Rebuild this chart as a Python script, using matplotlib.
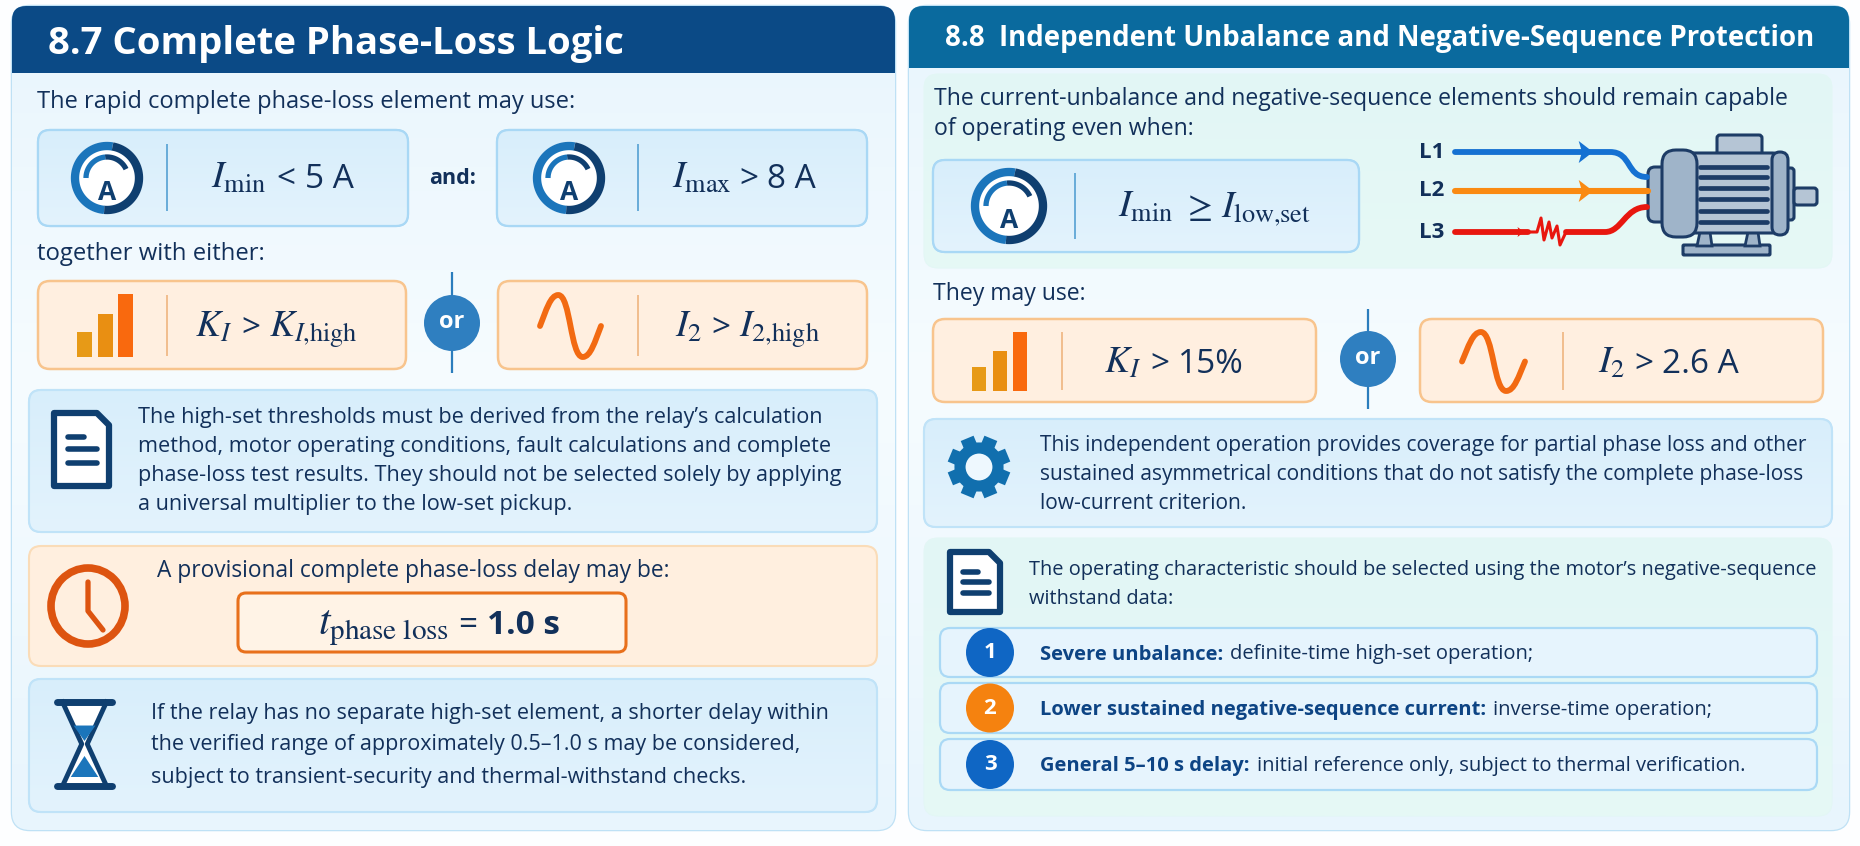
import numpy as np
import matplotlib
matplotlib.use("Agg")
import matplotlib.pyplot as plt
from matplotlib.patches import FancyBboxPatch, Ellipse, Polygon, PathPatch
from matplotlib.path import Path

plt.rcParams['font.family'] = ['Open Sans', 'DejaVu Sans']
plt.rcParams['mathtext.fontset'] = 'stix'

# Texts of the chart
title_left = "8.7 Complete Phase-Loss Logic"
title_right = "8.8  Independent Unbalance and Negative-Sequence Protection"
intro_left = "The rapid complete phase-loss element may use:"
together = "together with either:"
high_set = ["The high-set thresholds must be derived from the relay’s calculation",
            "method, motor operating conditions, fault calculations and complete",
            "phase-loss test results. They should not be selected solely by applying",
            "a universal multiplier to the low-set pickup."]
provisional = "A provisional complete phase-loss delay may be:"
shorter = ["If the relay has no separate high-set element, a shorter delay within",
           "the verified range of approximately 0.5–1.0 s may be considered,",
           "subject to transient-security and thermal-withstand checks."]
intro_right = ["The current-unbalance and negative-sequence elements should remain capable",
               "of operating even when:"]
may_use = "They may use:"
coverage = ["This independent operation provides coverage for partial phase loss and other",
            "sustained asymmetrical conditions that do not satisfy the complete phase-loss",
            "low-current criterion."]
operating = ["The operating characteristic should be selected using the motor’s negative-sequence",
             "withstand data:"]
row_numbers = ["1", "2", "3"]
row_bold = ["Severe unbalance:", "Lower sustained negative-sequence current:", "General 5–10 s delay:"]
row_plain = ["definite-time high-set operation;", "inverse-time operation;",
             "initial reference only, subject to thermal verification."]
phases = ["L1", "L2", "L3"]
bar_heights = [25, 43, 63]

NAVY = "#12305a"
BLUE = "#1b75bb"
DARK = "#0f3f70"
ORANGE = "#f26a12"
BOLDBLUE = "#0d4484"
BLUEBOX = [(0, "#d8eefb"), (1, "#e3f3fd")]
GREENBOX = [(0, "#e2f6f5"), (1, "#e6f9f6")]

fig = plt.figure(figsize=(18.6, 8.46), dpi=100)
ax = fig.add_axes([0, 0, 1, 1])
ax.axis('off')


def box(x0, y0, x1, y1, fc, ec, r=10, lw=1.5, z=2):
    p = FancyBboxPatch((x0 + r, y0 + r), x1 - x0 - 2 * r, y1 - y0 - 2 * r,
                       boxstyle="round,pad=%g,rounding_size=%g" % (r, r),
                       fc=fc, ec=ec, lw=lw, zorder=z)
    ax.add_patch(p)
    return p


def gradient(patch, x0, y0, x1, y1, stops, z=2.1):
    # vertical colour gradient clipped to a rounded box
    pos = [s[0] for s in stops]
    rgb = np.array([matplotlib.colors.to_rgb(s[1]) for s in stops])
    t = np.linspace(0, 1, 200)
    img = np.stack([np.interp(t, pos, rgb[:, i]) for i in range(3)], axis=1)[:, None, :]
    im = ax.imshow(img, extent=[x0, x1, y1, y0], aspect='auto', zorder=z)
    im.set_clip_path(patch)


def grad_box(x0, y0, x1, y1, stops, ec, r=12, lw=1.5, z=2):
    p = box(x0, y0, x1, y1, stops[0][1], ec, r, lw, z)
    gradient(p, x0, y0, x1, y1, stops, z + 0.1)
    box(x0, y0, x1, y1, 'none', ec, r, lw, z + 0.2)


def write(x, y, s, size=14, weight='normal', color=NAVY, **kw):
    return ax.text(x, y, s, fontsize=size, fontweight=weight, color=color,
                   va='baseline', zorder=6, **kw)


def lines(x, ys, strs, size=14):
    for y, s in zip(ys, strs):
        write(x, y, s, size)


def run(x, y, parts):
    # several pieces of text side by side on one baseline: (string, size, weight, gap)
    rend = fig.canvas.get_renderer()
    for s, size, weight, gap in parts:
        t = write(x, y, s, size, weight)
        x += t.get_window_extent(rend).width + gap


def arc(cx, cy, rx, ry, a0, a1, color, lw, cap='butt'):
    a = np.radians(np.linspace(a0, a1, 60))
    ax.plot(cx + rx * np.cos(a), cy - ry * np.sin(a), color=color, lw=lw,
            solid_capstyle=cap, zorder=5)


def curve(verts, codes, color, lw, z=5):
    ax.add_patch(PathPatch(Path(verts, codes), fc='none', ec=color, lw=lw,
                           capstyle='round', joinstyle='round', zorder=z))


def seg(x0, y0, x1, y1, color, lw, cap='butt', z=5):
    ax.plot([x0, x1], [y0, y1], color=color, lw=lw, solid_capstyle=cap, zorder=z)


def gauge(cx, cy, r=36):
    ax.add_patch(Ellipse((cx, cy), 2 * r, 2 * r, fc='white', ec='none', zorder=4))
    arc(cx, cy, r - 4, r - 4, 80, 265, BLUE, 6)
    arc(cx, cy, r - 4, r - 4, -95, 80, DARK, 6)
    arc(cx, cy, r - 15, r - 15, 25, 95, DARK, 3.8)
    arc(cx, cy, r - 15, r - 15, 95, 180, BLUE, 3.8)
    ax.text(cx, cy + 14, "A", fontsize=19, fontweight='bold', color=DARK,
            ha='center', va='center', zorder=6)


def bars(x0, bottom, scale=1.0, width=15, step=20.5):
    for i, (h, c) in enumerate(zip(bar_heights, ["#e79a17", "#e98f12", "#f9690e"])):
        ax.bar(x0 + i * step, h * scale, width=width, bottom=bottom - h * scale,
               color=c, align='edge', zorder=5)


def sine(x0, y0, w, h):
    pts = [(0, .5), (.1, .25), (.17, 0), (.3, 0), (.5, 0), (.5, 1), (.7, 1),
           (.83, 1), (.9, .75), (1, .5)]
    verts = [(x0 + a * w, y0 + b * h) for a, b in pts]
    curve(verts, [Path.MOVETO] + [Path.CURVE4] * 9, "#f26a12", 4.2)


def or_badge(cx, cy, y0, y1):
    seg(cx, y0, cx, y1, "#2b7dbd", 1.6, z=3)
    ax.add_patch(Ellipse((cx, cy), 56, 56, fc="#2f7fc0", ec='none', zorder=4))
    ax.text(cx, cy - 1, "or", fontsize=17, fontweight='bold', color='white',
            ha='center', va='center', zorder=6)


def doc(x0, y0, x1, y1):
    w, h = x1 - x0, y1 - y0
    fold = 0.22 * w
    pts = [(x0, y0), (x1 - fold, y0), (x1, y0 + fold), (x1, y1), (x0, y1)]
    ax.add_patch(Polygon(pts, closed=True, fc='white', ec=DARK, lw=4.5,
                         joinstyle='round', zorder=5))
    for k, end in zip([0.33, 0.5, 0.68], [0.55, 0.78, 0.78]):
        seg(x0 + 0.25 * w, y0 + k * h, x0 + end * w, y0 + k * h, DARK, 4, 'round', 6)


def hourglass(x0, y0, x1, y1):
    w, h = x1 - x0, y1 - y0
    cx, cy = (x0 + x1) / 2, (y0 + y1) / 2
    left = [(x0 + 0.1 * w, y0), (cx - 0.05 * w, cy), (x0 + 0.1 * w, y1)]
    right = [(x1 - 0.1 * w, y0), (cx + 0.05 * w, cy), (x1 - 0.1 * w, y1)]
    ax.add_patch(Polygon(left + right[::-1], closed=True, fc='white', ec='none', zorder=4))
    ax.plot(*zip(*left), color=DARK, lw=3.5, zorder=5)
    ax.plot(*zip(*right), color=DARK, lw=3.5, zorder=5)
    ax.add_patch(Polygon([(cx - .2 * w, y0 + .28 * h), (cx + .2 * w, y0 + .28 * h), (cx, cy - 3)],
                         closed=True, fc=BLUE, ec='none', zorder=5))
    ax.add_patch(Polygon([(cx, cy + 12), (cx + .25 * w, y1 - 9), (cx - .25 * w, y1 - 9)],
                         closed=True, fc=BLUE, ec='none', zorder=5))
    seg(x0, y0, x1, y0, DARK, 5, 'round', 6)
    seg(x0, y1, x1, y1, DARK, 5, 'round', 6)


def clock(cx, cy):
    ax.add_patch(Ellipse((cx, cy), 74, 76, fc='none', ec="#dd5410", lw=5.5, zorder=5))
    ax.plot([cx, cx, cx + 15], [cy - 24, cy + 5, cy + 24], color="#dd5410", lw=3.8,
            solid_capstyle='round', solid_joinstyle='round', zorder=5)


def gear(cx, cy):
    for a in np.radians(np.arange(0, 360, 45) + 22.5):
        seg(cx + 18 * np.cos(a), cy + 18 * np.sin(a), cx + 31 * np.cos(a), cy + 31 * np.sin(a),
            "#116fae", 10, z=4)
    ax.add_patch(Ellipse((cx, cy), 38, 38, fc='#eef8fe', ec="#116fae", lw=8, zorder=5))


def motor():
    navy, fill, fill2 = "#1d3c66", "#9fb4c9", "#b5c5d5"
    box(1717, 135, 1762, 158, fill2, navy, 3, 2.2, 4)
    box(1648, 167, 1668, 222, fill, navy, 7, 2.2, 4)
    box(1782, 168, 1794, 220, fill, navy, 3, 2.2, 4)
    box(1794, 188, 1817, 205, fill2, navy, 3, 2.2, 4)
    box(1683, 245, 1770, 255, fill, navy, 1, 2.2, 4)
    for x in [(1697, 1711), (1745, 1759)]:
        ax.add_patch(Polygon([(x[0] + 3, 232), (x[1] - 1, 232), (x[1] + 1, 246), (x[0], 246)],
                             closed=True, fc=fill, ec=navy, lw=2, zorder=4))
    box(1690, 153, 1775, 233, fill2, navy, 2, 2.2, 4.2)
    box(1662, 150, 1697, 237, fill, navy, 14, 2.2, 4.3)
    box(1772, 152, 1788, 235, fill, navy, 8, 2.2, 4.3)
    for y in [167, 177, 188, 199, 211, 222]:
        seg(1700, y, 1767, y, navy, 3.4, 'round', 5)


def wires():
    ys = [152, 191, 232]
    for name, y in zip(phases, ys):
        ax.text(1432, y, name, fontsize=16, fontweight='bold', color=NAVY,
                ha='center', va='center', zorder=6)
    c4 = Path.CURVE4
    curve([(1455, 152), (1610, 152), (1632, 152), (1626, 177), (1647, 177)],
          [Path.MOVETO, Path.LINETO, c4, c4, c4], "#1571d2", 4.2)
    seg(1455, 191, 1648, 191, "#fa8a12", 4.4, 'round')
    curve([(1455, 232), (1528, 232)], [Path.MOVETO, Path.LINETO], "#e8170f", 4.2)
    zig_x = [1528, 1537, 1541, 1544, 1549, 1552, 1557, 1560, 1566]
    zig_y = [232, 232, 218, 240, 222, 238, 226, 245, 232]
    ax.plot(zig_x, zig_y, color="#e8170f", lw=2.2, zorder=5)
    curve([(1566, 232), (1605, 232), (1622, 232), (1625, 207), (1647, 207)],
          [Path.MOVETO, Path.LINETO, c4, c4, c4], "#e8170f", 4.2)
    for tip, y, col, size in [(1593, 152, "#1571d2", 11), (1593, 191, "#fa8a12", 11),
                              (1524, 232, "#e8170f", 5)]:
        ax.add_patch(Polygon([(tip - 1.3 * size, y - size), (tip, y), (tip - 1.3 * size, y + size),
                              (tip - 1.0 * size, y)], closed=True, fc=col, ec='none', zorder=5))


PANEL = [(0, "#e8f5fd"), (0.45, "#f6fcff"), (1, "#e8f5fd")]

# Left panel
p = box(12, 6, 895, 830, "#eef8fe", "#bfe1f5", 18, 1.8, 1)
gradient(p, 12, 6, 895, 830, PANEL, z=1.1)
box(12, 6, 895, 73, "#0b4a86", 'none', 14, 0, 1.5)
ax.add_patch(Polygon([(12, 30), (895, 30), (895, 73), (12, 73)], closed=True, fc="#0b4a86", ec='none', zorder=1.5))
write(48, 54, title_left, 27.5, 'bold', 'white')
write(37, 108, intro_left, 17)

for x0, x1 in [(38, 408), (497, 867)]:
    grad_box(x0, 130, x1, 226, BLUEBOX, "#a9d8f5", 12, 1.6)
gauge(107, 178)
gauge(569, 178)
seg(167, 144, 167, 211, "#5fa6d6", 1.3)
seg(638, 144, 638, 211, "#5fa6d6", 1.3)
run(211, 188, [(r"$I_{\mathrm{min}}$", 27, 'normal', 10), ("<", 24, 'normal', 10), ("5 A", 24, 'normal', 0)])
write(429, 184, "and:", 15.5, 'bold')
run(672, 188, [(r"$I_{\mathrm{max}}$", 27, 'normal', 8), (">", 24, 'normal', 8), ("8 A", 24, 'normal', 0)])
write(37, 260, together, 17.2)

for x0, x1 in [(38, 406), (498, 867)]:
    box(x0, 281, x1, 369, "#ffefe0", "#f8c48d", 12, 1.8)
bars(77, 357)
sine(540, 295, 61, 62)
seg(167, 295, 167, 356, "#f0b987", 1.3)
seg(638, 295, 638, 356, "#f0b987", 1.3)
or_badge(452, 323, 272, 373)
run(195, 337, [(r"$K_I$", 27, 'normal', 9), (">", 24, 'normal', 9), (r"$K_{I{,}\mathrm{high}}$", 27, 'normal', 0)])
run(675, 337, [(r"$I_2$", 27, 'normal', 9), (">", 24, 'normal', 9), (r"$I_{2{,}\mathrm{high}}$", 27, 'normal', 0)])

grad_box(29, 390, 877, 532, BLUEBOX, "#c0e3f8")
doc(54, 413, 109, 486)
lines(138, [423, 452, 481, 510], high_set, 15.6)

box(29, 546, 877, 666, "#ffefdf", "#fadcb8", 12, 1.5)
clock(88, 606)
write(157, 577, provisional, 16.4)
box(238, 593, 626, 652, "#fff3e6", "#e8701c", 8, 2.2, 3)
run(318, 634, [(r"$t_{\mathrm{phase\ loss}}$", 30, 'normal', 9), ("=", 24, 'normal', 10), ("1.0 s", 24, 'bold', 0)])

grad_box(29, 679, 877, 812, BLUEBOX, "#c0e3f8")
hourglass(57, 702, 112, 786)
lines(151, [719, 750, 783], shorter, 15.45)

# Right panel
p = box(909, 6, 1849, 830, "#eef8fe", "#bfe1f5", 18, 1.8, 1)
gradient(p, 909, 6, 1849, 830, PANEL, z=1.1)
box(909, 6, 1849, 68, "#0a6a9e", 'none', 14, 0, 1.5)
ax.add_patch(Polygon([(909, 30), (1849, 30), (1849, 68), (909, 68)], closed=True, fc="#0a6a9e", ec='none', zorder=1.5))
write(945, 46, title_right, 19.9, 'bold', 'white')

grad_box(924, 74, 1832, 268, GREENBOX, "#e3f7f5", 14, 0.5)
lines(934, [105, 135], intro_right, 16.6)
grad_box(933, 160, 1359, 252, BLUEBOX, "#a9d8f5", 12, 1.6, 3)
gauge(1009, 206, 38)
seg(1075, 173, 1075, 239, "#5fa6d6", 1.3)
run(1118, 217, [(r"$I_{\mathrm{min}}$", 27, 'normal', 9), (r"$\geq$", 26, 'normal', 9), (r"$I_{\mathrm{low{,}set}}$", 27, 'normal', 0)])
wires()
motor()

write(933, 300, may_use, 16.6)
for x0, x1 in [(933, 1316), (1420, 1823)]:
    box(x0, 319, x1, 402, "#ffefe0", "#f8c48d", 12, 1.8)
bars(972, 391, 0.94, 14, 20.5)
sine(1462, 332, 63, 59)
seg(1062, 332, 1062, 390, "#f0b987", 1.3)
seg(1563, 332, 1563, 390, "#f0b987", 1.3)
or_badge(1368, 359, 309, 409)
run(1104, 373, [(r"$K_I$", 27, 'normal', 9), (">", 24, 'normal', 9), ("15%", 24, 'normal', 0)])
run(1598, 373, [(r"$I_2$", 27, 'normal', 9), (">", 24, 'normal', 9), ("2.6 A", 24, 'normal', 0)])

grad_box(924, 419, 1832, 527, BLUEBOX, "#c0e3f8")
gear(979, 467)
lines(1040, [451, 480, 509], coverage, 15.1)

grad_box(924, 538, 1832, 816, GREENBOX, "#e3f7f5", 14, 0.5)
doc(950, 552, 1000, 612)
lines(1029, [575, 604], operating, 14.4)
for y0, y1, num, bold, plain, col in zip([628, 683, 739], [677, 733, 790], row_numbers, row_bold,
                                         row_plain, ["#0f66c4", "#f5820f", "#0f66c4"]):
    box(940, y0, 1817, y1, "#e6f4fd", "#aad9f5", 10, 1.6, 3)
    cy = (y0 + y1) / 2
    ax.add_patch(Ellipse((990, cy), 48, 49, fc=col, ec='none', zorder=4))
    ax.text(990, cy, num, fontsize=16, fontweight='bold', color='white', ha='center', va='center', zorder=6)
    rend = fig.canvas.get_renderer()
    t = write(1040, cy + 7, bold, 14.5, 'bold', BOLDBLUE)
    write(1040 + t.get_window_extent(rend).width + 7, cy + 7, plain, 14.5)

ax.set_xlim(0, 1860)
ax.set_ylim(846, 0)
fig.savefig("out.png", dpi=100, facecolor="#fdfeff")
